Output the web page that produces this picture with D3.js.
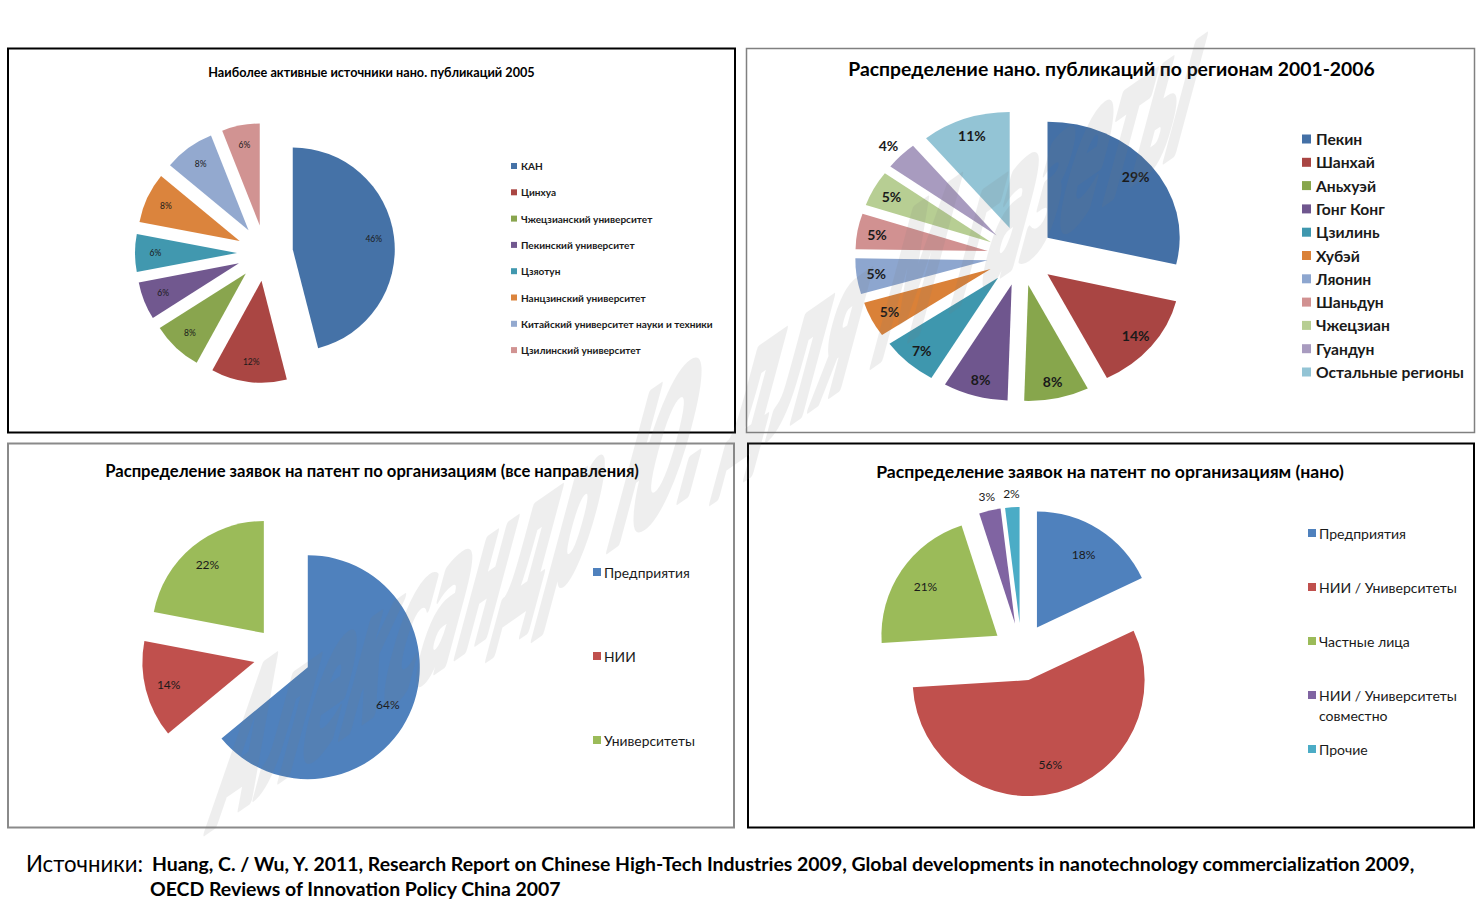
<!DOCTYPE html>
<html><head><meta charset="utf-8">
<script src="https://cdn.jsdelivr.net/npm/d3@7/dist/d3.min.js"></script>
<style>html,body{margin:0;padding:0;background:#fff;}svg{display:block;}</style>
</head><body>
<svg id="c" width="1482" height="908"></svg>
<script>
// ---------- DATA ----------
const tlTitle = "Наиболее активные источники нано. публикаций 2005";
const tlCategories = ["КАН","Цинхуа","Чжецзианский университет","Пекинский университет","Цзяотун","Нанцзинский университет","Китайский университет науки и техники","Цзилинский университет"];
const tlValues = [46,12,8,6,6,8,8,6];

const trTitle = "Распределение нано. публикаций по регионам 2001-2006";
const trCategories = ["Пекин","Шанхай","Аньхуэй","Гонг Конг","Цзилинь","Хубэй","Ляонин","Шаньдун","Чжецзиан","Гуандун","Остальные регионы"];
const trValues = [29,14,8,8,7,5,5,5,5,4,11];

const blTitle = "Распределение заявок на патент по организациям (все направления)";
const blCategories = ["Предприятия","НИИ","Университеты"];
const blValues = [64,14,22];

const brTitle = "Распределение заявок на патент по организациям (нано)";
const brCategories = ["Предприятия","НИИ / Университеты","Частные лица","НИИ / Университеты совместно","Прочие"];
const brValues = [18,56,21,3,2];

const sourceLabel = "Источники:";
const sourceLine1 = "Huang, C. / Wu, Y. 2011, Research Report on Chinese High-Tech Industries 2009, Global developments in nanotechnology commercialization 2009,";
const sourceLine2 = "OECD Reviews of Innovation Policy China 2007";
const watermarkText = "Александр Ю. для М газеты";

// ---------- STYLE ----------
const tlColors = ["#4572A7","#AA4643","#89A54E","#71588F","#4198AF","#DB843D","#93A9CF","#D19392"];
const trColors = ["#4470A6","#A94543","#87A64C","#6F568E","#3E97AE","#DA8138","#8DA6CF","#D19191","#B7CE93","#A89BBF","#93C4D5"];
const offColors = ["#4F81BD","#C0504D","#9BBB59","#8064A2","#4BACC6"];
const FONT = "Lato, 'Open Sans', 'Noto Sans', sans-serif";

const svg = d3.select("#c");

function fit(sel, target){
  const n = sel.node();
  const fs = +sel.attr("font-size");
  const L = n.getComputedTextLength();
  if (L > 0) sel.attr("font-size", fs * target / L);
  return +sel.attr("font-size");
}

// ---------- PANELS ----------
const panels = [
  {x:8, y:48.5, w:727, h:384, stroke:"#000", sw:2},
  {x:746.5, y:48.5, w:728, h:384, stroke:"#808080", sw:1.5},
  {x:8, y:443.5, w:726, h:384, stroke:"#8a8a8a", sw:2},
  {x:748, y:443.5, w:726, h:384, stroke:"#000", sw:2}
];
svg.selectAll("rect.panel").data(panels).join("rect").attr("class","panel")
  .attr("x",d=>d.x).attr("y",d=>d.y).attr("width",d=>d.w).attr("height",d=>d.h)
  .attr("fill","#fff").attr("stroke",d=>d.stroke).attr("stroke-width",d=>d.sw);

// ---------- PIE ----------
function drawPie(cfg){
  const pie = d3.pie().sort(null).value(v=>v)(cfg.values);
  const arc = d3.arc().innerRadius(0).outerRadius(cfg.r);
  const g = svg.append("g").attr("transform",`translate(${cfg.cx},${cfg.cy}) scale(${cfg.sx},1)`);
  g.selectAll("path").data(pie).join("path")
    .attr("d", arc)
    .attr("fill",(d,i)=>cfg.colors[i])
    .attr("transform", d=>{
      const m=(d.startAngle+d.endAngle)/2;
      return `translate(${cfg.d*Math.sin(m)},${-cfg.d*Math.cos(m)})`;
    });
  svg.append("g").selectAll("text").data(pie).join("text")
    .attr("x", d=>{const m=(d.startAngle+d.endAngle)/2; const k=d.value<5?cfg.kOut:cfg.k; return cfg.cx + cfg.sx*(cfg.d+k*cfg.r)*Math.sin(m);})
    .attr("y", d=>{const m=(d.startAngle+d.endAngle)/2; const k=d.value<5?cfg.kOut:cfg.k; return cfg.cy - (cfg.d+k*cfg.r)*Math.cos(m);})
    .attr("text-anchor","middle").attr("dominant-baseline","central")
    .attr("font-family",FONT).attr("font-size",cfg.labelSize).attr("font-weight",cfg.labelWeight)
    .attr("fill","#1a1a1a")
    .text(d=>d.value+"%");
}

function drawTitle(t, cx, cy, size, weight, width){
  const s = svg.append("text").attr("x",cx).attr("y",cy)
    .attr("text-anchor","middle").attr("dominant-baseline","central")
    .attr("font-family",FONT).attr("font-size",size).attr("font-weight",weight)
    .attr("fill","#000").text(t);
  fit(s, width);
}

function drawLegend(cfg){
  const probe = svg.append("text").attr("font-family",FONT).attr("font-size",12).attr("font-weight",cfg.weight).text(cfg.cats[cfg.refIdx]);
  const fs = fit(probe, cfg.refWidth);
  probe.remove();
  cfg.cats.forEach((c,i)=>{
    const y = cfg.y0 + i*cfg.dy;
    svg.append("rect").attr("x",cfg.sqX).attr("y",y-cfg.sq/2).attr("width",cfg.sq).attr("height",cfg.sq).attr("fill",cfg.colors[i]);
    const t = svg.append("text").attr("x",cfg.tx).attr("y",y).attr("dominant-baseline","central")
      .attr("font-family",FONT).attr("font-size",fs).attr("font-weight",cfg.weight).attr("fill","#1a1a1a").text(c);
    if (cfg.maxW && t.node().getComputedTextLength() > cfg.maxW){
      const words = c.split(" ");
      let line = [], rest = [];
      for (let j=0;j<words.length;j++){
        t.text([...line, words[j]].join(" "));
        if (t.node().getComputedTextLength() > cfg.maxW && line.length){ rest = words.slice(j); break; }
        line.push(words[j]);
      }
      t.text(line.join(" "));
      svg.append("text").attr("x",cfg.tx).attr("y",y+cfg.lineH).attr("dominant-baseline","central")
        .attr("font-family",FONT).attr("font-size",fs).attr("font-weight",cfg.weight).attr("fill","#1a1a1a").text(rest.join(" "));
    }
  });
}

// Top-left
drawPie({values:tlValues, colors:tlColors, cx:265, cy:253, r:102, sx:1, d:28, k:0.8, kOut:1.15, labelSize:8.5, labelWeight:400});
drawTitle(tlTitle, 371.5, 72, 11, 700, 327);
drawLegend({cats:tlCategories, colors:tlColors, refIdx:6, refWidth:192, weight:700, y0:166, dy:26.3, sqX:511, sq:6, tx:521});

// Top-right
drawPie({values:trValues, colors:trColors, cx:1021, cy:256, r:116, sx:1.14, d:29.6, k:0.85, kOut:1.13, labelSize:14, labelWeight:700});
drawTitle(trTitle, 1111.5, 68, 16, 700, 527);
drawLegend({cats:trCategories, colors:trColors, refIdx:10, refWidth:148, weight:700, y0:139, dy:23.3, sqX:1302, sq:9, tx:1316});

// Bottom-left
drawPie({values:blValues, colors:offColors, cx:282, cy:655, r:112, sx:1, d:28.5, k:0.79, kOut:1.12, labelSize:12, labelWeight:400});
drawTitle(blTitle, 372, 471, 14, 700, 534);
drawLegend({cats:blCategories, colors:offColors, refIdx:2, refWidth:91, weight:400, y0:572, dy:84, sqX:593, sq:8, tx:604});

// Bottom-right
drawPie({values:brValues, colors:offColors, cx:1021.4, cy:652, r:116, sx:1, d:29, k:0.75, kOut:1.12, labelSize:12, labelWeight:400});
drawTitle(brTitle, 1110, 471, 14, 700, 468);
drawLegend({cats:brCategories, colors:offColors, refIdx:1, refWidth:138, weight:400, y0:533, dy:54, sqX:1308, sq:8, tx:1319, maxW:146, lineH:20});

// ---------- SOURCES ----------
const s0 = svg.append("text").attr("x",26).attr("y",863).attr("dominant-baseline","central")
  .attr("font-family",FONT).attr("font-size",17).attr("font-weight",400).attr("fill","#000").text(sourceLabel);
fit(s0, 117);
const s1 = svg.append("text").attr("x",152).attr("y",863).attr("dominant-baseline","central")
  .attr("font-family",FONT).attr("font-size",17).attr("font-weight",700).attr("fill","#000").text(sourceLine1);
const fs1 = fit(s1, 1263);
svg.append("text").attr("x",150).attr("y",888).attr("dominant-baseline","central")
  .attr("font-family",FONT).attr("font-size",fs1).attr("font-weight",700).attr("fill","#000").text(sourceLine2);

// ---------- WATERMARK ----------
const a = 35*Math.PI/180, v = 75*Math.PI/180, sy = 2.3;
svg.append("g").attr("opacity",0.12)
  .append("text")
  .attr("transform",`matrix(${Math.cos(a)},${-Math.sin(a)},${-Math.cos(v)*sy},${Math.sin(v)*sy},205,832)`)
  .attr("font-family","'Liberation Sans Narrow','DejaVu Sans Condensed','Liberation Sans',sans-serif")
  .attr("font-weight",700).attr("font-size",96)
  .attr("textLength",1190).attr("lengthAdjust","spacingAndGlyphs")
  .attr("fill","#7a7a7a").attr("stroke","#7a7a7a").attr("stroke-width",4).attr("stroke-linejoin","round")
  .text(watermarkText);
</script>
</body></html>
